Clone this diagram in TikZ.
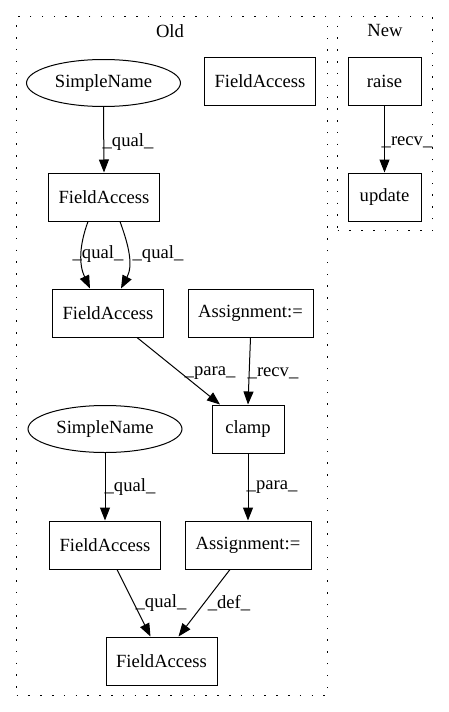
\documentclass[tikz,border=0pt]{standalone}
\usepackage{fontspec}
\setmainfont{Liberation Serif}
\usetikzlibrary{arrows.meta,shapes.geometric}
\begin{document}
\begin{tikzpicture}[x=1pt,y=1pt,
  every node/.style={font=\fontsize{18.6}{22}\selectfont},
  box/.style={draw,line width=1pt,rectangle,minimum height=48pt,inner sep=0pt},
  ell/.style={draw,line width=1pt,ellipse,minimum width=154pt,minimum height=47pt,inner sep=0pt},
  edge/.style={line width=1pt,-{Triangle[length=13pt,width=10pt]}},
  lbl/.style={inner sep=0pt},
  cluster/.style={draw,line width=1.2pt,dash pattern=on 1.5pt off 10.3pt}]
\useasboundingbox (0,0) rectangle (448,-712);
% clusters
\node[cluster,minimum width=311pt,minimum height=679pt,anchor=north west] (old) at (16,-16) {};
\node[cluster,minimum width=95pt,minimum height=214pt,anchor=north west] (new) at (337,-16) {};
\node (oldt) at (170,-31) {Old};
\node (newt) at (385,-31) {New};
% nodes
\node[ell] (sn1) at (103.5,-83) {SimpleName};
\node[box,minimum width=111pt] (fa1) at (260,-81) {FieldAccess};
\node[box,minimum width=73pt] (raise) at (384.5,-81) {raise};
\node[box,minimum width=73pt] (update) at (384.5,-197) {update};
\node[box,minimum width=111pt] (fa2) at (104,-197) {FieldAccess};
\node[box,minimum width=111pt] (fa3) at (108,-313) {FieldAccess};
\node[box,minimum width=125pt] (as1) at (250.5,-313) {Assignment:=};
\node[box,minimum width=72pt] (clamp) at (248,-429) {clamp};
\node[ell] (sn2) at (105,-429) {SimpleName};
\node[box,minimum width=111pt] (fa4) at (105,-545) {FieldAccess};
\node[box,minimum width=126pt] (as2) at (248,-545) {Assignment:=};
\node[box,minimum width=111pt] (fa5) at (161.5,-661) {FieldAccess};
% edges
\draw[edge] (sn1.south) -- (fa2.north);
\node[lbl] (l1) at (128,-142) {\_qual\_};
\draw[edge] ([xshift=-16pt]fa2.south) to[out=250,in=115] ([xshift=-18pt]fa3.north);
\draw[edge] ([xshift=16pt]fa2.south) to[out=-70,in=62] ([xshift=13pt]fa3.north);
\node[lbl] (l2) at (98,-254) {\_qual\_};
\node[lbl] (l3) at (158,-254) {\_qual\_};
\draw[edge] ([xshift=29pt]fa3.south) -- ([xshift=-28pt]clamp.north);
\node[lbl] (l4) at (210,-373) {\_para\_};
\draw[edge] (as1.south) -- ([xshift=0pt]clamp.north);
\node[lbl] (l5) at (273,-373) {\_recv\_};
\draw[edge] (sn2.south) -- (fa4.north);
\node[lbl] (l6) at (130,-487) {\_qual\_};
\draw[edge] (clamp.south) -- (as2.north);
\node[lbl] (l7) at (272,-487) {\_para\_};
\draw[edge] ([xshift=12pt]fa4.south) -- ([xshift=-11pt]fa5.north);
\node[lbl] (l8) at (161,-603) {\_qual\_};
\draw[edge] ([xshift=-18pt]as2.south) -- ([xshift=17pt]fa5.north);
\node[lbl] (l9) at (229,-603) {\_def\_};
\draw[edge] (raise.south) -- (update.north);
\node[lbl] (l10) at (407,-142) {\_recv\_};
\end{tikzpicture}
\end{document}
